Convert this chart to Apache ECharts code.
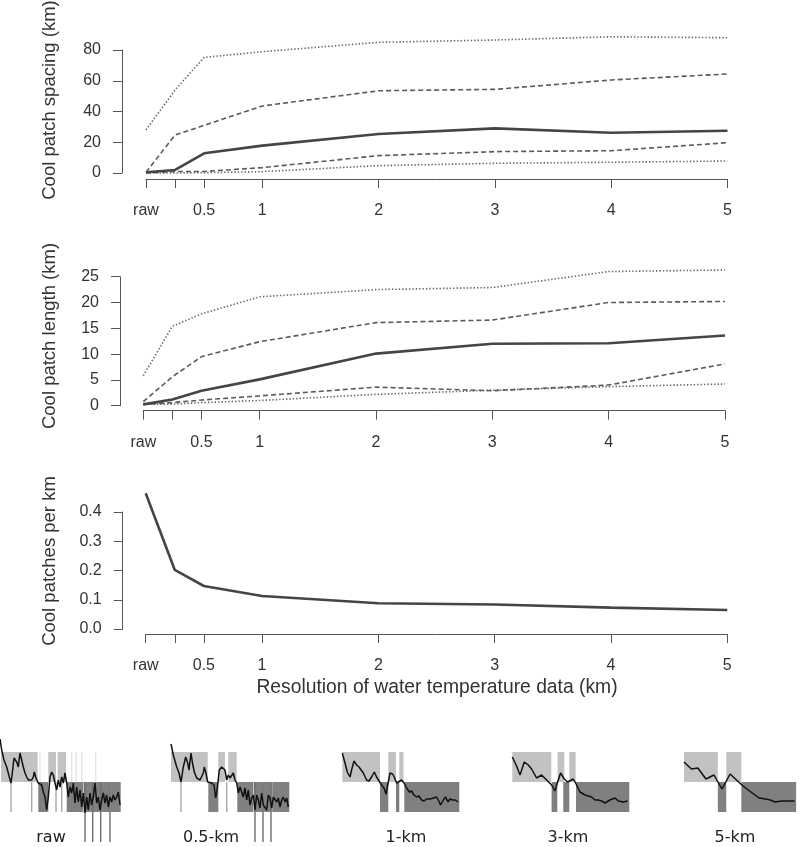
<!DOCTYPE html>
<html>
<head>
<meta charset="utf-8">
<title>Cool patch metrics by data resolution</title>
<script src="https://cdn.jsdelivr.net/npm/echarts@6/dist/echarts.min.js"></script>
<style>
  html, body { margin: 0; padding: 0; background: #fff; }
  #main { width: 800px; height: 847px; }
</style>
</head>
<body>
<div id="main"></div>
<script>
// resolution of water temperature data (km), 0 = raw
var resolution = [0, 0.25, 0.5, 1, 2, 3, 4, 5];
var xTicks = [0, 0.25, 0.5, 1, 2, 3, 4, 5];
var xLabels = [0, 0.5, 1, 2, 3, 4, 5];

// cool patch spacing (km)
var spacingP10 = [0, 0, 0.2, 0.9, 4.8, 6.3, 7, 7.8];
var spacingP25 = [0, 1, 1, 3.5, 11.3, 13.9, 14.5, 19.7];
var spacingMed = [0.5, 2, 12.8, 17.8, 25.4, 29, 26.2, 27.5];
var spacingP75 = [0.5, 24.7, 31, 43.6, 53.5, 54.4, 60.5, 64.4];
var spacingP90 = [28, 54, 75.2, 78.9, 85, 86.5, 88.6, 88];

// cool patch length (km)
var lengthP10 = [0.26, 0.3, 0.6, 1, 2.2, 3, 3.7, 4.2];
var lengthP25 = [0.26, 0.6, 1.1, 1.9, 3.6, 2.9, 4, 8.1];
var lengthMed = [0.26, 1.2, 2.9, 5.1, 10.1, 12, 12.1, 13.6];
var lengthP75 = [0.8, 5.6, 9.5, 12.4, 16.1, 16.6, 20, 20.2];
var lengthP90 = [5.8, 15.4, 17.8, 21.1, 22.5, 22.9, 26, 26.3];

// cool patches per km
var patchesPerKm = [0.464, 0.202, 0.147, 0.113, 0.088, 0.084, 0.073, 0.065];

// example profiles: [distance along reach, temperature index]
var rawProfile = [[0,10.3],[1.7,9.2],[4,8.2],[6.7,7.5],[9.3,6.5],[11,5.9],[12.3,6.9],[14,8.4],[15.7,8.5],[16.7,8.0],[18.3,7.5],[20,8.9],[21.7,8.2],[23.3,7.5],[25,6.9],[26.7,6.5],[28.3,6.2],[30,6.0],[31.7,6.2],[33.3,6.5],[34.3,7.0],[36,6.4],[38.3,5.9],[40,6.0],[41.7,5.7],[43.3,5.0],[45,4.5],[46.7,3.2],[48.3,4.5],[50,6.5],[51.7,7.0],[53.3,6.7],[55,5.9],[56.7,5.2],[58.3,6.2],[60,5.5],[61.7,6.5],[63.3,5.9],[65,6.9],[66.7,5.9],[68.3,4.5],[70,5.5],[71.7,4.9],[73.3,5.9],[75,3.9],[76.7,5.5],[78.3,4.0],[80,5.2],[81.7,3.5],[83.3,4.9],[85,2.9],[86.7,4.5],[88.3,3.2],[90,4.9],[91.7,3.7],[93.3,4.5],[95,5.9],[96.7,3.9],[98.3,4.5],[100,3.2],[101.7,4.2],[103.3,4.9],[105,3.9],[106.7,4.7],[108.3,3.5],[110,4.5],[111.7,4.0],[113.3,4.7],[115,4.2],[116.7,4.5],[118.3,5.0],[120,3.7]];
var halfKmProfile = [[0,9.8],[2.3,8.7],[5.7,7.5],[8,6.9],[10,6.0],[12.3,7.5],[14.7,8.5],[16.7,7.9],[18,7.2],[20,8.9],[21.3,8.0],[23.3,7.0],[25.7,6.4],[27.3,6.5],[29,6.2],[30.7,6.0],[32.3,6.9],[33.3,7.5],[34.7,7.0],[36.7,6.0],[38.3,5.9],[40.7,5.9],[43,5.7],[44.7,4.4],[46.3,5.4],[48.3,7.2],[50.7,7.5],[52.3,7.7],[54,7.2],[55.7,6.2],[57.3,6.7],[59,6.4],[60.7,6.5],[62.3,6.9],[64,6.2],[65.7,5.9],[67.3,4.9],[69,5.5],[70.7,5.7],[72.3,4.5],[74,5.4],[75.7,4.2],[77.3,5.2],[79,3.7],[80.7,4.4],[82.3,4.7],[84,3.2],[85.7,4.7],[87.3,4.2],[89,3.4],[90.7,4.9],[92.3,3.7],[94,3.9],[95.7,3.2],[97.3,4.7],[99,4.4],[100.7,3.4],[102.3,4.5],[104,4.7],[105.7,4.0],[107.3,4.4],[109,3.5],[110.7,4.2],[112.3,4.5],[114,4.0],[115.7,4.4],[117.3,3.5]];
var oneKmProfile = [[0,8.9],[2.7,7.9],[5,7.0],[7.7,6.5],[9.3,7.2],[11.7,8.1],[14.3,7.7],[16.7,7.5],[18.7,7.7],[21,6.9],[24.3,6.2],[26.7,6.1],[29.3,6.5],[32,7.0],[34.3,6.5],[36.7,6.1],[39.3,5.7],[41.7,5.4],[43.7,4.8],[46,6.0],[47.7,6.9],[50.3,6.8],[52,6.5],[54.3,5.9],[56.3,6.1],[59.3,6.2],[61.7,5.9],[64.3,5.4],[67,5.0],[69.3,5.1],[71.7,4.7],[74.3,4.5],[76.7,4.6],[79.3,4.2],[81.7,4.1],[84.3,4.3],[87.7,4.3],[91,4.4],[94.3,4.5],[96,4.2],[98.3,3.7],[101,4.2],[103.3,4.5],[105.7,4.0],[107.7,4.3],[110.3,4.2],[113,4.2],[116,4.0]];
var threeKmProfile = [[0,8.5],[4.3,7.6],[7.7,6.7],[12,8.0],[16,7.7],[19.3,7.3],[24.3,6.4],[29.3,6.7],[34.3,6.2],[39.3,5.7],[42.7,5.1],[45.3,6.0],[48.3,6.9],[52,6.3],[55.3,6.0],[61,6.3],[64.3,5.7],[67.7,5.0],[72.7,4.7],[79.3,4.5],[82.7,4.2],[86,4.2],[89.3,4.1],[92.7,3.9],[97.7,4.2],[102.7,4.4],[106,4.1],[111,4.0],[115.3,4.1]];
var fiveKmProfile = [[0,8.0],[7.7,7.3],[14.3,7.4],[22.7,6.3],[31,6.7],[39.3,5.3],[47.7,6.8],[54.3,6.2],[61,5.6],[69.3,5.0],[77.7,4.4],[84.3,4.3],[89.3,4.2],[94.3,4.0],[101,4.1],[107.7,4.1],[114.3,4.1]];

// warm / cool patches: [start, end] along the reach
var rawWarm = [[1,37.7],[48.3,56],[57.7,66]];
var rawCool = [[38.3,48.3],[66.7,83.3],[83.8,100],[100.6,110],[110.5,120.7]];
var rawWarmThin = [40, 71.7, 76, 81.7, 95.7];
var rawCoolThin = [11, 31.7, 56, 61.7];
var rawDeep = [85, 92.7, 100.7, 110];

var halfKmWarm = [[0,36.7],[47.3,54],[57.3,65.7]];
var halfKmCool = [[37.3,47.3],[66.3,82.3],[82.8,91.7],[92.2,100.7],[101.2,118.3]];
var halfKmCoolThin = [10, 55.7];
var halfKmDeep = [84, 92, 100];

var oneKmWarm = [[0,37.7],[46,53.7],[57,61.2]];
var oneKmCool = [[37.7,46],[53.7,57],[62,117]];

var threeKmWarm = [[0,39],[45.3,52],[57,63.3]];
var threeKmCool = [[39.3,45],[51,57],[63.7,117]];

var fiveKmWarm = [[0,35],[43.7,59.3]];
var fiveKmCool = [[35,43.7],[59.3,116]];

var thumbNames = ['raw', '0.5-km', '1-km', '3-km', '5-km'];

var FONT = '"Liberation Sans", Arial, sans-serif';
var AXIS = '#555';
var TEXT = '#333';

function pairs(ys) {
  return resolution.map(function (r, i) { return [r, ys[i]]; });
}

function lineSeries(idx, ys, kind) {
  var st = {
    solid: { color: '#454545', width: 2.6, type: 'solid' },
    dashed: { color: '#5a5a5a', width: 1.6, type: [5, 3] },
    dotted: { color: '#666', width: 1.6, type: [1.4, 2] }
  }[kind];
  return {
    type: 'line', xAxisIndex: idx, yAxisIndex: idx, data: pairs(ys),
    symbol: 'none', clip: false, silent: true, lineStyle: st, z: 3
  };
}

function panelX(idx, off) {
  return {
    gridIndex: idx, type: 'value', min: 0, max: 5, offset: off,
    axisLine: { show: true, onZero: false, lineStyle: { color: AXIS, width: 1 } },
    axisTick: { show: true, customValues: xTicks, length: 9, lineStyle: { color: AXIS } },
    axisLabel: {
      customValues: xLabels, margin: 24, fontSize: 16, fontFamily: FONT, color: TEXT,
      formatter: function (v) { return v === 0 ? 'raw' : String(v); }
    },
    splitLine: { show: false }
  };
}

function panelY(idx, max, step, off, dec) {
  return {
    gridIndex: idx, type: 'value', min: 0, max: max, interval: step, offset: off,
    axisLine: { show: true, onZero: false, lineStyle: { color: AXIS, width: 1 } },
    axisTick: { show: true, length: 9, lineStyle: { color: AXIS } },
    axisLabel: {
      margin: 21, fontSize: 16, fontFamily: FONT, color: TEXT,
      formatter: function (v) { return dec ? v.toFixed(dec) : String(v); }
    },
    splitLine: { show: false }
  };
}

// rectangles for patches, drawn through the thumbnail axes
function patchSeries(idx, spans, lo, hi, color) {
  return {
    type: 'custom', xAxisIndex: idx, yAxisIndex: idx, silent: true, z: 1,
    data: spans.map(function (s) { return Array.isArray(s) ? s : [s, s]; }),
    encode: { x: [0, 1] },
    renderItem: function (params, api) {
      var a = api.coord([api.value(0), hi]);
      var b = api.coord([api.value(1), lo]);
      var w = b[0] - a[0];
      var x = a[0];
      if (w < 1.4) { x = a[0] - 0.7; w = 1.4; }
      return { type: 'rect', shape: { x: x, y: a[1], width: w, height: b[1] - a[1] }, style: { fill: color } };
    }
  };
}

function profileSeries(idx, data) {
  return {
    type: 'line', xAxisIndex: idx, yAxisIndex: idx, data: data, symbol: 'none',
    silent: true, z: 4, lineStyle: { color: '#111', width: 1.5 }
  };
}

var thumbLeft = [0, 171, 342.3, 512.3, 684];
var thumbs = [
  { profile: rawProfile, warm: rawWarm, cool: rawCool, warmThin: rawWarmThin, coolThin: rawCoolThin, deep: rawDeep },
  { profile: halfKmProfile, warm: halfKmWarm, cool: halfKmCool, warmThin: [], coolThin: halfKmCoolThin, deep: halfKmDeep },
  { profile: oneKmProfile, warm: oneKmWarm, cool: oneKmCool, warmThin: [], coolThin: [], deep: [] },
  { profile: threeKmProfile, warm: threeKmWarm, cool: threeKmCool, warmThin: [], coolThin: [], deep: [] },
  { profile: fiveKmProfile, warm: fiveKmWarm, cool: fiveKmCool, warmThin: [], coolThin: [], deep: [] }
];

var grids = [
  { left: 146, top: 50, width: 581.5, height: 123 },
  { left: 143.3, top: 276.7, width: 581.7, height: 129 },
  { left: 145.7, top: 512, width: 581.6, height: 117 }
];
var xAxes = [panelX(0, 6), panelX(1, 5), panelX(2, 5)];
var yAxes = [panelY(0, 80, 20, 24), panelY(1, 25, 5, 23.3), panelY(2, 0.4, 0.1, 23, 1)];

var series = [
  lineSeries(0, spacingP10, 'dotted'),
  lineSeries(0, spacingP25, 'dashed'),
  lineSeries(0, spacingMed, 'solid'),
  lineSeries(0, spacingP75, 'dashed'),
  lineSeries(0, spacingP90, 'dotted'),
  lineSeries(1, lengthP10, 'dotted'),
  lineSeries(1, lengthP25, 'dashed'),
  lineSeries(1, lengthMed, 'solid'),
  lineSeries(1, lengthP75, 'dashed'),
  lineSeries(1, lengthP90, 'dotted'),
  lineSeries(2, patchesPerKm, 'solid')
];

thumbs.forEach(function (t, i) {
  var idx = 3 + i;
  grids.push({ left: thumbLeft[i], top: 722, width: 120, height: 120 });
  xAxes.push({ gridIndex: idx, type: 'value', min: 0, max: 120, show: false });
  yAxes.push({ gridIndex: idx, type: 'value', min: 0, max: 12, show: false });
  series.push(patchSeries(idx, t.warm, 6, 9, '#c2c2c2'));
  series.push(patchSeries(idx, t.cool, 3, 6, '#808080'));
  series.push(patchSeries(idx, t.warmThin, 6, 9, '#e4e4e4'));
  series.push(patchSeries(idx, t.coolThin, 3, 6, '#a8a8a8'));
  series.push(patchSeries(idx, t.deep, 0, 6, '#6e6e6e'));
  series.push(profileSeries(idx, t.profile));
});

function vText(text, x, y) {
  return {
    type: 'text', x: x, y: y, rotation: Math.PI / 2,
    style: { text: text, fontSize: 18.5, fontFamily: FONT, fill: TEXT, align: 'center', verticalAlign: 'middle' }
  };
}

var labelX = [51, 211, 406, 568, 735];
var graphics = [
  vText('Cool patch spacing (km)', 50, 100),
  vText('Cool patch length (km)', 50, 336),
  vText('Cool patches per km', 50, 561),
  {
    type: 'text', x: 437, y: 688,
    style: { text: 'Resolution of water temperature data (km)', fontSize: 19.3, fontFamily: FONT, fill: TEXT, align: 'center', verticalAlign: 'middle' }
  }
];
thumbNames.forEach(function (n, i) {
  graphics.push({
    type: 'text', x: labelX[i], y: 838,
    style: { text: n, fontSize: 16, fontFamily: '"DejaVu Sans", Verdana, sans-serif', fill: '#222', align: 'center', verticalAlign: 'middle' }
  });
});

var chart = echarts.init(document.getElementById('main'));
chart.setOption({
  animation: false,
  backgroundColor: '#fff',
  grid: grids,
  xAxis: xAxes,
  yAxis: yAxes,
  series: series,
  graphic: graphics
});
</script>
</body>
</html>
